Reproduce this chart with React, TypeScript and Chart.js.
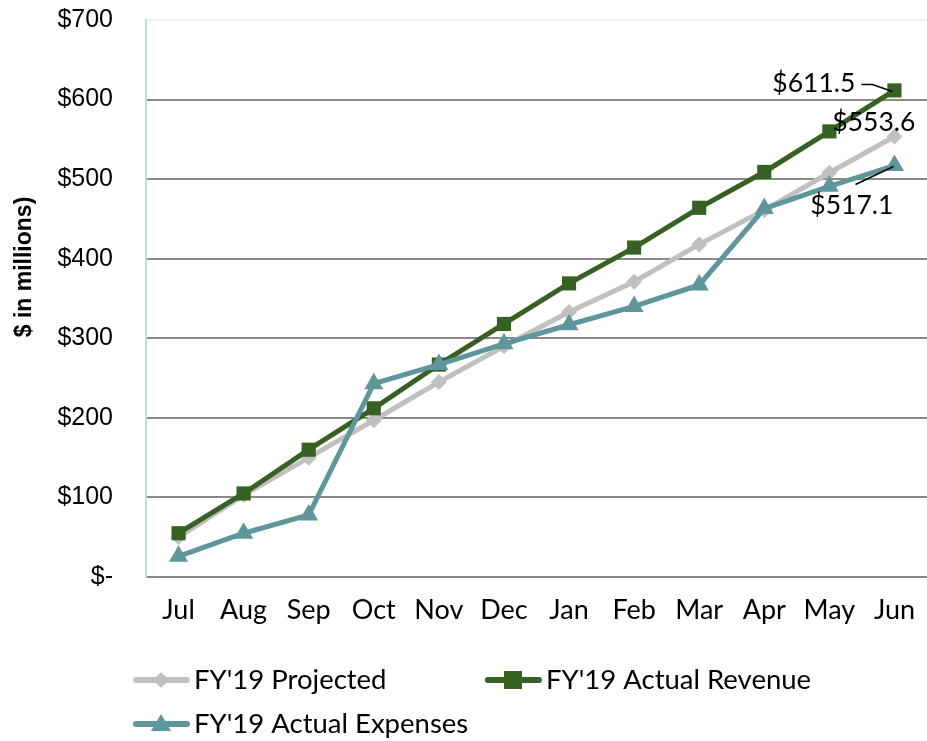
import React, { useEffect, useRef } from "react";
import { Chart, registerables } from "chart.js";

Chart.register(...registerables);

const months = ["Jul", "Aug", "Sep", "Oct", "Nov", "Dec", "Jan", "Feb", "Mar", "Apr", "May", "Jun"];
const projected = [50, 103, 150, 197, 245, 290, 333, 371, 418, 461, 508, 553.6];
const revenue = [55, 105, 160, 212, 267, 318, 369, 414, 464, 509, 560, 611.5];
const expenses = [26, 55, 78, 243, 267, 293, 317, 340, 367, 463, 491, 517.1];
const yTicks = [0, 100, 200, 300, 400, 500, 600, 700];
const seriesNames = ["FY'19 Projected", "FY'19 Actual Revenue", "FY'19 Actual Expenses"];
const yTitle = "$ in millions)";

const C_PROJ = "#c0c0c0";
const C_REV = "#376023";
const C_EXP = "#5f969c";
const LABEL_FONT = "Lato, 'DejaVu Sans', sans-serif";

const fmt = (v: number) => (v === 0 ? "$-" : "$" + v);

const overlayPlugin = {
  id: "overlay",
  afterDraw(chart: any) {
    const ctx = chart.ctx;
    ctx.save();
    // Y axis title
    ctx.save();
    ctx.translate(25, 267);
    ctx.rotate(-Math.PI / 2);
    ctx.font = "bold 23px 'Liberation Sans', Arial, sans-serif";
    ctx.fillStyle = "#000";
    ctx.textAlign = "center";
    ctx.textBaseline = "middle";
    ctx.fillText(yTitle, 0, 0);
    ctx.restore();

    // data labels for last points
    const last = months.length - 1;
    const pRev = chart.getDatasetMeta(1).data[last];
    const pProj = chart.getDatasetMeta(0).data[last];
    const pExp = chart.getDatasetMeta(2).data[last];
    ctx.font = "26.5px " + LABEL_FONT;
    ctx.fillStyle = "#000";
    ctx.textBaseline = "middle";
    ctx.strokeStyle = "#000";
    ctx.lineWidth = 1.5;
    // revenue
    ctx.textAlign = "right";
    ctx.fillText("$" + revenue[last].toFixed(1), pRev.x - 39, pRev.y - 7);
    ctx.beginPath();
    ctx.moveTo(pRev.x - 33, pRev.y - 6);
    ctx.lineTo(pRev.x - 22, pRev.y - 6);
    ctx.lineTo(pRev.x - 2, pRev.y + 1);
    ctx.stroke();
    // projected
    ctx.fillText("$" + projected[last].toFixed(1), pProj.x + 21, pProj.y - 14);
    // expenses
    ctx.fillText("$" + expenses[last].toFixed(1), pExp.x - 1, pExp.y + 40);
    ctx.beginPath();
    ctx.moveTo(pExp.x - 39, pExp.y + 19);
    ctx.lineTo(pExp.x - 1, pExp.y + 1);
    ctx.stroke();

    // legend
    const items = [
      { name: seriesNames[0], color: C_PROJ, style: "rectRot", x: 133, y: 680, r: 8 },
      { name: seriesNames[1], color: C_REV, style: "rect", x: 485, y: 680, r: 9 },
      { name: seriesNames[2], color: C_EXP, style: "triangle", x: 133, y: 724, r: 10 },
    ];
    ctx.font = "27.5px " + LABEL_FONT;
    ctx.textAlign = "left";
    ctx.textBaseline = "middle";
    for (const it of items) {
      ctx.strokeStyle = it.color;
      ctx.lineWidth = 6;
      ctx.lineCap = "round";
      ctx.beginPath();
      ctx.moveTo(it.x + 3, it.y);
      ctx.lineTo(it.x + 54, it.y);
      ctx.stroke();
      ctx.lineCap = "butt";
      ctx.fillStyle = it.color;
      const cx = it.x + 28;
      ctx.beginPath();
      if (it.style === "rect") {
        ctx.rect(cx - it.r, it.y - it.r, it.r * 2, it.r * 2);
      } else if (it.style === "rectRot") {
        ctx.moveTo(cx, it.y - it.r);
        ctx.lineTo(cx + it.r, it.y);
        ctx.lineTo(cx, it.y + it.r);
        ctx.lineTo(cx - it.r, it.y);
        ctx.closePath();
      } else {
        ctx.moveTo(cx, it.y - it.r);
        ctx.lineTo(cx + it.r, it.y + it.r * 0.7);
        ctx.lineTo(cx - it.r, it.y + it.r * 0.7);
        ctx.closePath();
      }
      ctx.fill();
      ctx.fillStyle = "#000";
      ctx.fillText(it.name, it.x + 61, it.y);
    }
    ctx.restore();
  },
};

export default function App() {
  const ref = useRef<HTMLCanvasElement | null>(null);
  useEffect(() => {
    if (!ref.current) return;
    const chart = new Chart(ref.current, {
      type: "line",
      data: {
        labels: months,
        datasets: [
          {
            label: seriesNames[0],
            data: projected,
            borderColor: C_PROJ,
            backgroundColor: C_PROJ,
            borderWidth: 5,
            pointStyle: "rectRot",
            pointRadius: 8,
            pointBorderWidth: 0,
            order: 3,
            clip: false,
          },
          {
            label: seriesNames[1],
            data: revenue,
            borderColor: C_REV,
            backgroundColor: C_REV,
            borderWidth: 5,
            pointStyle: "rect",
            pointRadius: 10,
            pointBorderWidth: 0,
            order: 2,
            clip: false,
          },
          {
            label: seriesNames[2],
            data: expenses,
            borderColor: C_EXP,
            backgroundColor: C_EXP,
            borderWidth: 5,
            pointStyle: "triangle",
            pointRadius: 11,
            pointBorderWidth: 0,
            order: 1,
            clip: false,
          },
        ],
      },
      options: {
        animation: false,
        responsive: true,
        maintainAspectRatio: false,
        layout: { autoPadding: false, padding: { top: 20, right: 0, bottom: 104, left: 0 } },
        plugins: { legend: { display: false }, tooltip: { enabled: false } },
        scales: {
          x: {
            offset: true,
            grid: {
              display: true,
              drawOnChartArea: false,
              drawTicks: true,
              tickLength: 17,
              tickColor: "rgba(0,0,0,0)",
              offset: true,
            },
            border: { display: true, color: "#8a8a8a", width: 2 },
            ticks: {
              color: "#000",
              font: { family: LABEL_FONT, size: 27 },
              padding: 0,
              maxRotation: 0,
              autoSkip: false,
            },
            afterFit: (s: any) => {
              s.height = 60;
            },
          },
          y: {
            min: 0,
            max: 700,
            afterBuildTicks: (s: any) => {
              s.ticks = yTicks.map((v) => ({ value: v }));
            },
            grid: {
              drawTicks: false,
              color: (c: any) => (c.tick && c.tick.value === 700 ? "#eaf4f2" : "#8a8a8a"),
              lineWidth: 2,
            },
            border: { display: true, color: "#b5e6dc", width: 2 },
            ticks: {
              color: "#000",
              font: { family: "'Liberation Sans', Arial, sans-serif", size: 25 },
              padding: 33,
              callback: (v: any) => fmt(Number(v)),
            },
            afterFit: (s: any) => {
              s.width = 146;
              s.paddingTop = 0;
              s.paddingBottom = 0;
            },
          },
        },
      },
      plugins: [overlayPlugin],
    });
    return () => chart.destroy();
  }, []);
  return (
    <div style={{ position: "fixed", left: 0, top: 0, width: 927, height: 741, background: "#fff" }}>
      <canvas ref={ref} />
    </div>
  );
}
